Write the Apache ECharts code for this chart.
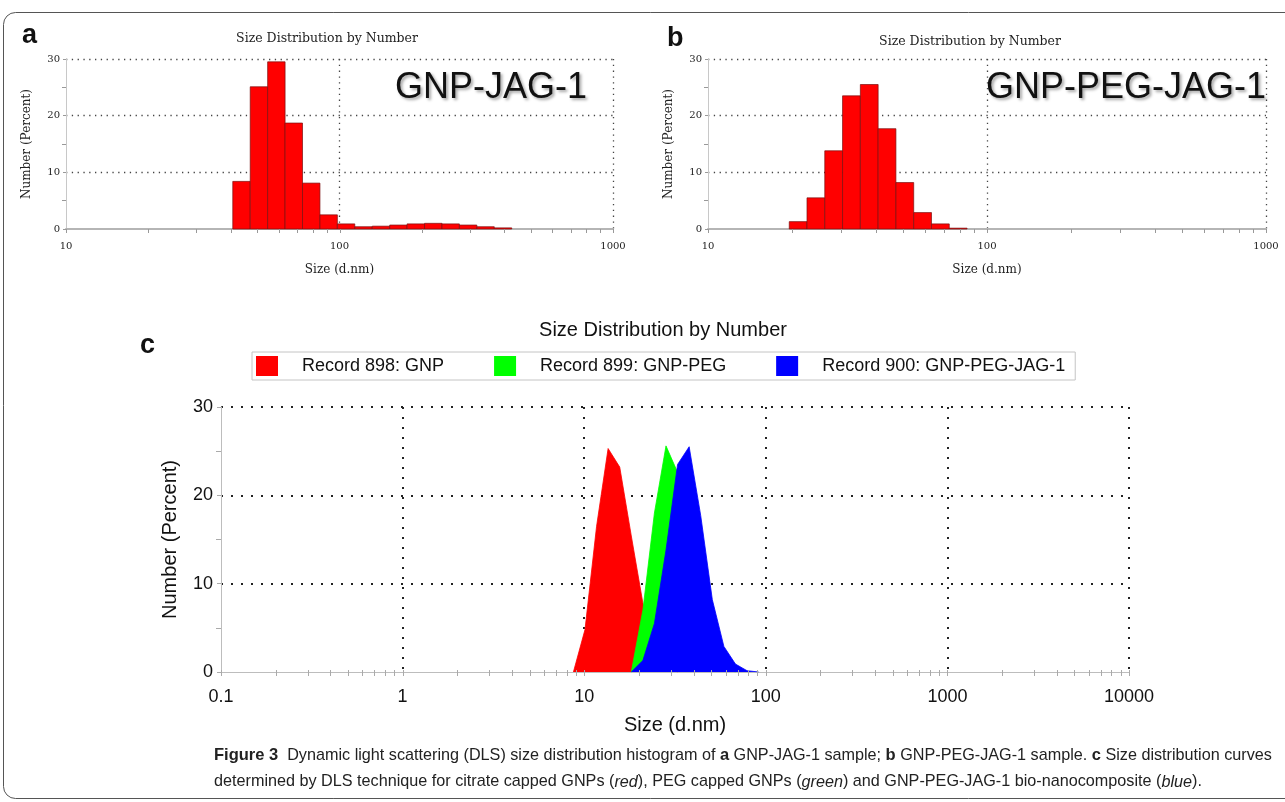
<!DOCTYPE html>
<html>
<head>
<meta charset="utf-8">
<script src="https://cdn.jsdelivr.net/npm/echarts@6/dist/echarts.min.js"></script>
<style>html,body{margin:0;padding:0;background:#fff}#chart{width:1285px;height:802px}</style>
</head>
<body>
<div id="chart"></div>
<script>
// ---------- DATA ----------
// Panel a: GNP-JAG-1 histogram (size class centre, d.nm)
const sizeClassesA = [43.82, 50.75, 58.77, 68.06, 78.82, 91.28, 105.7, 122.4, 141.8, 164.2, 190.1, 220.2, 255.0, 295.3, 342.0, 396.1];
const numberA      = [8.4, 25.1, 29.5, 18.7, 8.1, 2.5, 0.9, 0.4, 0.5, 0.7, 0.9, 1.0, 0.9, 0.7, 0.4, 0.2];
// Panel b: GNP-PEG-JAG-1 histogram
const sizeClassesB = [21.04, 24.36, 28.21, 32.67, 37.84, 43.82, 50.75, 58.77, 68.06, 78.82];
const numberB      = [1.3, 5.5, 13.8, 23.5, 25.5, 17.7, 8.2, 2.9, 0.9, 0.15];
// Panel c: size distribution curves
const sizeGNP        = [8.721, 10.1, 11.7, 13.54, 15.69, 18.17, 21.04, 24.36, 28.21, 32.67];
const numberGNP      = [0, 4.8, 16.5, 25.3, 23.2, 15.4, 7.8, 2.6, 0.6, 0];
const sizeGNPPEG     = [18.17, 21.04, 24.36, 28.21, 32.67, 37.84, 43.82, 50.75, 58.77, 68.06];
const numberGNPPEG   = [0, 7.0, 18.0, 25.6, 22.6, 14.0, 6.0, 2.0, 0.5, 0];
const sizeGNPPEGJAG  = [18.17, 21.04, 24.36, 28.21, 32.67, 37.84, 43.82, 50.75, 58.77, 68.06, 78.82, 91.28];
const numberGNPPEGJAG= [0, 1.3, 5.5, 13.8, 23.5, 25.5, 17.7, 8.2, 2.9, 0.9, 0.15, 0];
const seriesNamesC = ['Record 898: GNP', 'Record 899: GNP-PEG', 'Record 900: GNP-PEG-JAG-1'];
// Tick values
const xTicksAB = [10,20,30,40,50,60,70,80,90,100,200,300,400,500,600,700,800,900,1000];
const xTicksC = [];
[0.1,1,10,100,1000].forEach(d => { for (let k = 1; k < 10; k++) xTicksC.push(+(d*k).toPrecision(3)); });
xTicksC.push(10000);

// ---------- STYLE ----------
const SERIF = '"DejaVu Serif", serif';
const SANS = '"Liberation Sans", Arial, sans-serif';
const RED = '#ff0000', GREEN = '#00ff00', BLUE = '#0000ff';
const plainNum = v => String(+(+v).toPrecision(3));

function barSeries(classes, values, axisIdx) {
  return {
    type: 'custom', xAxisIndex: axisIdx, yAxisIndex: axisIdx, silent: true,
    data: classes.map((c, i) => [c, values[i]]),
    renderItem: (params, api) => {
      const i = params.dataIndex, n = classes.length;
      const r = i < n - 1 ? classes[i + 1] / classes[i] : classes[i] / classes[i - 1];
      const c = api.value(0), v = api.value(1);
      const p1 = api.coord([c / Math.sqrt(r), v]);
      const p2 = api.coord([c * Math.sqrt(r), 0]);
      return { type: 'rect', shape: { x: p1[0], y: p1[1], width: p2[0] - p1[0], height: p2[1] - p1[1] },
        style: { fill: RED, stroke: '#7a1010', lineWidth: 0.7 } };
    }
  };
}
function tickSeries(ticks, axisIdx, up, down, color) {
  return {
    type: 'custom', xAxisIndex: axisIdx, yAxisIndex: axisIdx, silent: true, clip: false, z: 8,
    data: ticks.map(t => [t, 0]),
    renderItem: (params, api) => {
      const p = api.coord([api.value(0), 0]);
      return { type: 'line', shape: { x1: Math.round(p[0]) + 0.5, y1: p[1] - up, x2: Math.round(p[0]) + 0.5, y2: p[1] + down },
        style: { stroke: color, lineWidth: 1 } };
    }
  };
}
function xAxisAB(idx) {
  return {
    type: 'log', logBase: 10, min: 10, max: 1000, gridIndex: idx,
    name: 'Size (d.nm)', nameLocation: 'middle', nameGap: 35,
    nameTextStyle: { fontFamily: SERIF, fontSize: 12, color: '#222' },
    axisLine: { show: true, lineStyle: { color: '#b5b5b5', width: 2 } },
    axisTick: { show: false },
    axisLabel: { fontFamily: SERIF, fontSize: 10, color: '#222', margin: 12, formatter: plainNum },
    splitLine: { show: true, showMinLine: false, lineStyle: { color: '#444', type: [1.3, 4.5], width: 1.3 } }
  };
}
function yAxisAB(idx) {
  return {
    type: 'value', min: 0, max: 30, interval: 10, gridIndex: idx,
    name: 'Number (Percent)', nameLocation: 'middle', nameGap: 33,
    nameTextStyle: { fontFamily: SERIF, fontSize: 12, color: '#222' },
    axisLine: { show: true, lineStyle: { color: '#c8c8c8', width: 1 } },
    axisTick: { show: true, length: 3, lineStyle: { color: '#999' } },
    minorTick: { show: true, splitNumber: 2, length: 4, lineStyle: { color: '#999' } },
    axisLabel: { fontFamily: SERIF, fontSize: 10, color: '#222', margin: 6 },
    splitLine: { show: true, showMinLine: false, lineStyle: { color: '#444', type: [1.3, 4.5], width: 1.3 } }
  };
}
function areaSeries(name, sizes, values, color, z) {
  return { name: name, type: 'line', xAxisIndex: 2, yAxisIndex: 2, symbol: 'none', silent: true, z: z,
    data: sizes.map((s, i) => [s, values[i]]), color: color,
    lineStyle: { color: color, width: 0.8 }, areaStyle: { color: color, opacity: 1 } };
}

const option = {
  backgroundColor: '#fff',
  animation: false,
  title: [
    { text: 'Size Distribution by Number', left: 322, top: 27, textAlign: 'center',
      textStyle: { fontFamily: SERIF, fontSize: 12.5, fontWeight: 'normal', color: '#222' } },
    { text: 'Size Distribution by Number', left: 965, top: 30, textAlign: 'center',
      textStyle: { fontFamily: SERIF, fontSize: 12.5, fontWeight: 'normal', color: '#222' } },
    { text: 'Size Distribution by Number', left: 658, top: 315, textAlign: 'center',
      textStyle: { fontFamily: SANS, fontSize: 20, fontWeight: 'normal', color: '#111' } }
  ],
  legend: {
    data: seriesNamesC, left: 252, top: 352,
    icon: 'rect', itemWidth: 22, itemHeight: 20, itemGap: 50,
    padding: [4, 10, 4, 4], borderColor: '#c4c4c4', borderWidth: 1,
    textStyle: { fontFamily: SANS, fontSize: 18, color: '#111', padding: [0, 0, 0, 19] }
  },
  grid: [
    { left: 66, top: 59, width: 547, height: 170 },
    { left: 708, top: 59, width: 558, height: 170 },
    { left: 221, top: 407, width: 908, height: 265 }
  ],
  xAxis: [
    xAxisAB(0), xAxisAB(1),
    {
      type: 'log', logBase: 10, min: 0.1, max: 10000, gridIndex: 2,
      name: 'Size (d.nm)', nameLocation: 'middle', nameGap: 43,
      nameTextStyle: { fontFamily: SANS, fontSize: 20, color: '#111' },
      axisLine: { show: true, lineStyle: { color: '#bdbdbd', width: 1 } },
      axisTick: { show: false },
      axisLabel: { fontFamily: SANS, fontSize: 18, color: '#111', margin: 16, formatter: plainNum },
      splitLine: { show: true, showMinLine: false, lineStyle: { color: '#222', type: [2, 8], width: 2 } }
    }
  ],
  yAxis: [
    yAxisAB(0), yAxisAB(1),
    {
      type: 'value', min: 0, max: 30, interval: 10, gridIndex: 2,
      name: 'Number (Percent)', nameLocation: 'middle', nameGap: 41,
      nameTextStyle: { fontFamily: SANS, fontSize: 20, color: '#111' },
      axisLine: { show: true, lineStyle: { color: '#bdbdbd', width: 1 } },
      axisTick: { show: true, length: 4, lineStyle: { color: '#aaa' } },
      minorTick: { show: true, splitNumber: 2, length: 5, lineStyle: { color: '#aaa' } },
      axisLabel: { fontFamily: SANS, fontSize: 18, color: '#111', margin: 8 },
      splitLine: { show: true, showMinLine: false, lineStyle: { color: '#222', type: [2, 8], width: 2 } }
    }
  ],
  series: [
    barSeries(sizeClassesA, numberA, 0),
    barSeries(sizeClassesB, numberB, 1),
    tickSeries(xTicksAB, 0, 0, 4, '#999'),
    tickSeries(xTicksAB, 1, 0, 4, '#999'),
    areaSeries(seriesNamesC[0], sizeGNP, numberGNP, RED, 3),
    areaSeries(seriesNamesC[1], sizeGNPPEG, numberGNPPEG, GREEN, 4),
    areaSeries(seriesNamesC[2], sizeGNPPEGJAG, numberGNPPEGJAG, BLUE, 5),
    tickSeries(xTicksC, 2, 2, 4, '#aaa')
  ],
  graphic: [
    { type: 'rect', shape: { x: 3.5, y: 12.5, width: 1300, height: 786, r: 12 }, silent: true,
      style: { fill: 'none', stroke: '#555', lineWidth: 1 } },
    { type: 'text', left: 22, top: 22, style: { text: 'a', font: 'bold 27px "Liberation Sans", Arial', fill: '#111' } },
    { type: 'text', left: 667, top: 25, style: { text: 'b', font: 'bold 27px "Liberation Sans", Arial', fill: '#111' } },
    { type: 'text', left: 140, top: 332, style: { text: 'c', font: 'bold 27px "Liberation Sans", Arial', fill: '#111' } },
    { type: 'text', x: 491, y: 88, z: 10, style: { text: 'GNP-JAG-1', font: '36px "Liberation Sans", Arial', fill: '#111',
        align: 'center', verticalAlign: 'middle', textShadowColor: 'rgba(0,0,0,0.35)', textShadowBlur: 3, textShadowOffsetX: 2, textShadowOffsetY: 2 } },
    { type: 'text', x: 1126, y: 88, z: 10, style: { text: 'GNP-PEG-JAG-1', font: '36px "Liberation Sans", Arial', fill: '#111',
        align: 'center', verticalAlign: 'middle', textShadowColor: 'rgba(0,0,0,0.35)', textShadowBlur: 3, textShadowOffsetX: 2, textShadowOffsetY: 2 } },
    { type: 'text', left: 214, top: 747, style: {
        text: '{b|Figure 3}  Dynamic light scattering (DLS) size distribution histogram of {b|a} GNP-JAG-1 sample; {b|b} GNP-PEG-JAG-1 sample. {b|c} Size distribution curves',
        font: '16.2px "Liberation Sans", sans-serif', fill: '#222',
        rich: { b: { fontWeight: 'bold', fontFamily: '"Liberation Sans"', fontSize: 16.5, fill: '#222' } } } },
    { type: 'text', left: 214, top: 774, style: {
        text: 'determined by DLS technique for citrate capped GNPs ({i|red}), PEG capped GNPs ({i|green}) and GNP-PEG-JAG-1 bio-nanocomposite ({i|blue}).',
        font: '16.2px "Liberation Sans", sans-serif', fill: '#222',
        rich: { i: { fontStyle: 'italic', fontFamily: '"Liberation Sans"', fontSize: 16.2, fill: '#222' } } } }
  ]
};

const chart = echarts.init(document.getElementById('chart'), null, { renderer: 'canvas' });
chart.setOption(option);
</script>
</body>
</html>
